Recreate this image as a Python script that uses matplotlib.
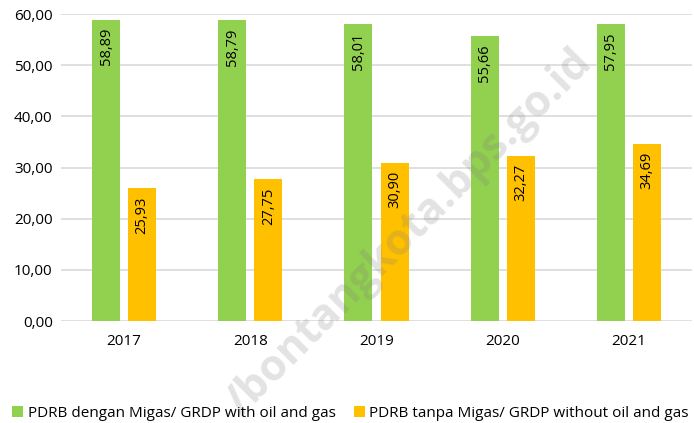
import matplotlib.pyplot as plt
import numpy as np

# data
years = ["2017", "2018", "2019", "2020", "2021"]
with_oil = [58.89, 58.79, 58.01, 55.66, 57.95]
without_oil = [25.93, 27.75, 30.90, 32.27, 34.69]
label_with = "PDRB dengan Migas/ GRDP with oil and gas"
label_without = "PDRB tanpa Migas/ GRDP without oil and gas"

plt.rcParams['font.family'] = ['Open Sans', 'DejaVu Sans']
plt.rcParams['font.size'] = 10

fig = plt.figure(figsize=(6.94, 4.23), dpi=100)
ax = fig.add_axes([61 / 694, 1 - 321 / 423, 631 / 694, 307 / 423])

x = np.arange(len(years))
width = 0.222
off = 0.143
green, gold = "#92d050", "#ffc000"

b1 = ax.bar(x - off, with_oil, width, color=green, zorder=2, label=label_with)
b2 = ax.bar(x + off, without_oil, width, color=gold, zorder=2, label=label_without)

def fmt(v):
    return f"{v:.2f}".replace(".", ",")

for bars, vals in ((b1, with_oil), (b2, without_oil)):
    for r, v in zip(bars, vals):
        ax.annotate(fmt(v), (r.get_x() + r.get_width() / 2, v),
                    xytext=(0, -6), textcoords="offset points",
                    rotation=90, ha="center", va="top", fontsize=10.5,
                    color="black", zorder=3)

ax.set_xlim(-0.5, len(years) - 0.5)
ax.set_ylim(0, 60)
ax.set_yticks(np.arange(0, 61, 10))
ax.set_yticklabels([fmt(t) for t in np.arange(0, 61, 10)], fontsize=11)
ax.set_xticks(x)
ax.set_xticklabels(years, fontsize=11)
ax.tick_params(length=0, pad=9)
ax.tick_params(axis='y', pad=6)
for s in ax.spines.values():
    s.set_visible(False)
ax.grid(axis='y', color="#d9d9d9", linewidth=1.2, zorder=0)
ax.set_axisbelow(True)

# watermark
fig.text(0.59, 0.45, "/bontangkota.bps.go.id", rotation=45, ha="center", va="center",
         fontsize=31, fontweight="bold", color="#7f7f7f", alpha=0.22, zorder=5)

fig.legend(handles=[b1, b2], loc="center", bbox_to_anchor=(0.505, 1 - 413 / 423),
           ncol=2, frameon=False, fontsize=11, handlelength=0.7, handleheight=0.7,
           handletextpad=0.3, columnspacing=1.2, borderaxespad=0)

fig.savefig("out.png", dpi=100)
